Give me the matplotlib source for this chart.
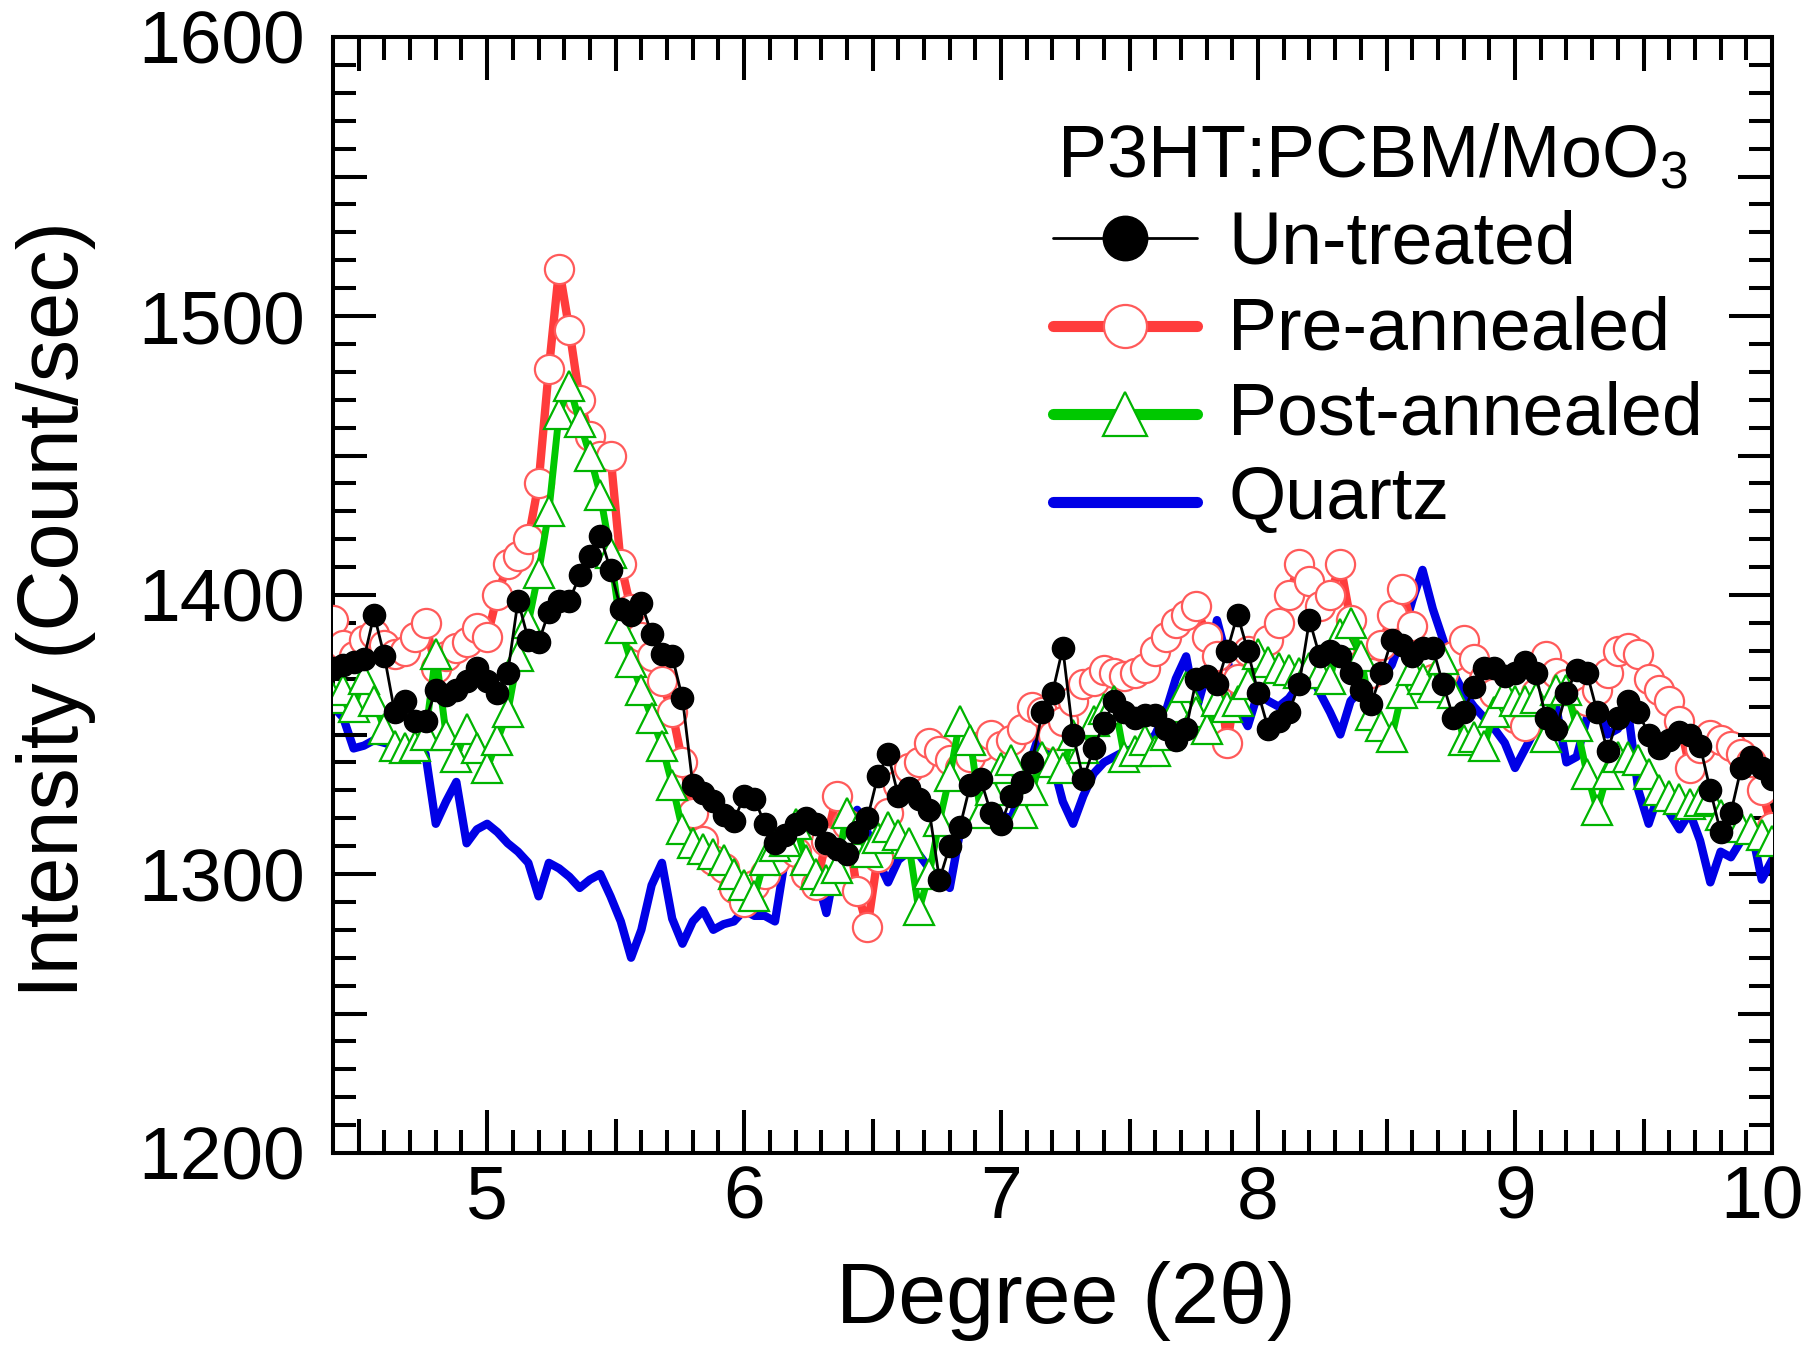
import matplotlib
matplotlib.use("Agg")
import matplotlib.pyplot as plt
import matplotlib.transforms as mtransforms
import numpy as np

plt.rcParams["font.family"] = ["Liberation Sans", "DejaVu Sans"]
plt.rcParams["mathtext.default"] = "regular"

# ---------------------------------------------------------------------
# Data. Scan step 0.04 deg from 4.40 to 10.00.
# ---------------------------------------------------------------------
two_theta = np.round(np.arange(4.40, 10.001, 0.04), 2)

untreated = [
    1374, 1375, 1376, 1377, 1393, 1378, 1358, 1362, 1355, 1355,
    1366, 1364, 1366, 1369, 1374, 1369, 1365, 1372, 1398, 1384,
    1383, 1394, 1398, 1398, 1407, 1414, 1421, 1409, 1395, 1393,
    1397, 1386, 1379, 1378, 1363, 1332, 1329, 1326, 1321, 1319,
    1328, 1327, 1318, 1311, 1314, 1318, 1320, 1318, 1311, 1309,
    1307, 1315, 1320, 1335, 1343, 1328, 1331, 1327, 1323, 1298,
    1310, 1317, 1332, 1334, 1322, 1318, 1328, 1333, 1340, 1358,
    1365, 1381, 1350, 1334, 1345, 1354, 1362, 1358, 1356, 1357,
    1357, 1352, 1348, 1352, 1370, 1371, 1368, 1380, 1393, 1380,
    1365, 1352, 1355, 1358, 1368, 1391, 1378, 1380, 1378, 1372,
    1366, 1361, 1372, 1384, 1382, 1378, 1381, 1381, 1368, 1356,
    1358, 1367, 1374, 1374, 1371, 1372, 1376, 1372, 1356, 1352,
    1365, 1373, 1372, 1358, 1344, 1356, 1362, 1358, 1350, 1345,
    1348, 1351, 1350, 1346, 1330, 1315, 1322, 1338, 1342, 1338,
    1334,
]

pre_annealed = [
    1391, 1382, 1378, 1384, 1386, 1382, 1379, 1380, 1385, 1390,
    1374, 1378, 1381, 1383, 1388, 1385, 1400, 1411, 1414, 1420,
    1440, 1481, 1517, 1495, 1470, 1457, 1450, 1450, 1411, 1395,
    1385, 1378, 1369, 1358, 1340, 1322, 1312, 1305, 1302, 1295,
    1290, 1296, 1300, 1305, 1310, 1308, 1300, 1296, 1312, 1328,
    1318, 1294, 1281, 1306, 1322, 1332, 1338, 1340, 1347, 1344,
    1341, 1338, 1342, 1346, 1350, 1346, 1348, 1352, 1360, 1358,
    1350, 1355, 1362, 1368, 1369, 1373, 1372, 1371, 1372, 1374,
    1380, 1385, 1390, 1393, 1396, 1385, 1378, 1347, 1370, 1380,
    1378, 1384, 1390, 1400, 1411, 1405, 1396, 1400, 1411, 1391,
    1375, 1372, 1382, 1393, 1402, 1389, 1375, 1370, 1372, 1378,
    1384, 1377, 1370, 1365, 1360, 1356, 1353, 1365, 1378, 1372,
    1368, 1365, 1362, 1366, 1372, 1380, 1381, 1379, 1370, 1366,
    1362, 1355, 1338, 1345, 1350, 1348, 1346, 1343, 1340, 1330,
    1317,
]

post_annealed = [
    1363, 1366, 1360, 1370, 1362, 1352, 1346, 1345, 1346, 1350,
    1379, 1350, 1342, 1352, 1345, 1338, 1348, 1358, 1378, 1390,
    1408, 1430, 1465, 1475, 1462, 1450, 1436, 1415, 1388, 1376,
    1366, 1356, 1346, 1332, 1316, 1311, 1309, 1307, 1305, 1300,
    1296, 1292, 1305, 1310, 1312, 1318, 1305, 1300, 1298, 1302,
    1322, 1316, 1308, 1313, 1317, 1314, 1311, 1287, 1300, 1319,
    1335, 1355, 1348, 1322, 1330, 1338, 1341, 1322, 1330, 1342,
    1340, 1338, 1350, 1345, 1355, 1359, 1362, 1342, 1344, 1348,
    1344, 1350, 1360, 1367, 1358, 1352, 1362, 1360, 1362, 1368,
    1379, 1376, 1374, 1373, 1372, 1374, 1372, 1370, 1386, 1390,
    1378, 1357, 1353, 1349, 1365, 1373, 1370, 1367, 1377, 1365,
    1348, 1349, 1346, 1358, 1365, 1362, 1362, 1363, 1349, 1366,
    1366, 1353, 1336, 1323, 1336, 1342, 1342, 1341, 1336, 1330,
    1328, 1327, 1325, 1326, 1327, 1321, 1319, 1317, 1316, 1314,
    1312,
]

quartz = [
    1360, 1356, 1345, 1346, 1348, 1347, 1346, 1345, 1344, 1343,
    1318, 1326, 1333, 1311, 1316, 1318, 1315, 1311, 1308, 1304,
    1292, 1304, 1302, 1299, 1295, 1298, 1300, 1292, 1283, 1270,
    1280, 1296, 1304, 1284, 1275, 1283, 1287, 1280, 1282, 1283,
    1287, 1285, 1285, 1283, 1306, 1315, 1305, 1300, 1286, 1305,
    1318, 1323, 1315, 1305, 1297, 1305, 1308, 1307, 1302, 1298,
    1295, 1315, 1318, 1320, 1322, 1321, 1320, 1330, 1342, 1353,
    1340, 1326, 1318, 1328, 1336, 1340, 1342, 1344, 1345, 1346,
    1350, 1358, 1370, 1378, 1359, 1372, 1391, 1377, 1360, 1353,
    1365, 1362, 1360, 1363, 1368, 1373, 1365, 1358, 1350, 1362,
    1366, 1368, 1370, 1375, 1385, 1398, 1409, 1395, 1384, 1372,
    1365, 1360, 1356, 1352, 1347, 1338, 1345, 1352, 1356, 1360,
    1340, 1342, 1356, 1366, 1350, 1352, 1358, 1330, 1318, 1329,
    1322, 1316, 1322, 1312, 1297, 1308, 1306, 1312, 1316, 1298,
    1305,
]

LEGEND_TITLE = "P3HT:PCBM/MoO$_3$"
LABELS = ["Un-treated", "Pre-annealed", "Post-annealed", "Quartz"]

RED = "#ff3c3c"
RED_EDGE = "#ff5a5a"
GREEN = "#00c800"
GREEN_EDGE = "#00b400"
BLUE = "#0000e6"

# ---------------------------------------------------------------------
# Figure
# ---------------------------------------------------------------------
W, H = 1807, 1361
AX_L, AX_R, AX_T, AX_B = 333, 1772, 37, 1153
fig = plt.figure(figsize=(W / 100, H / 100), dpi=100)
rect = [AX_L / W, (H - AX_B) / H, (AX_R - AX_L) / W, (AX_B - AX_T) / H]
ax = fig.add_axes(rect)


def to_axes(px, py):
    """pixel position in the image -> axes fraction"""
    return (px - AX_L) / (AX_R - AX_L), (AX_B - py) / (AX_B - AX_T)


ax.plot(two_theta, quartz, color=BLUE, lw=6, zorder=2,
        solid_joinstyle="round")
ax.plot(two_theta, pre_annealed, color=RED, lw=6, marker="o", ms=21,
        mfc="white", mec=RED_EDGE, mew=1.6, zorder=3)
ax.plot(two_theta, post_annealed, color=GREEN, lw=5, marker="^", ms=22,
        mfc="white", mec=GREEN_EDGE, mew=1.6, zorder=4)
ax.plot(two_theta, untreated, color="black", lw=2, marker="o", ms=16,
        mfc="black", mec="black", zorder=5)

ax.set_xlim(4.4, 10.0)
ax.set_ylim(1200, 1600)
ax.set_xticks([5, 6, 7, 8, 9, 10])
ax.set_xticks(np.arange(4.4, 10.01, 0.1), minor=True)
ax.set_yticks([1200, 1300, 1400, 1500, 1600])
ax.set_yticks(np.arange(1200, 1601, 10), minor=True)

for side in ax.spines.values():
    side.set_linewidth(2.9)

ax.tick_params(which="both", direction="in", top=True, right=True,
               width=2.9, labelsize=54)
ax.tick_params(which="major", length=31)
ax.tick_params(which="minor", length=16.5)
ax.tick_params(axis="x", which="major", pad=8)
ax.tick_params(axis="y", which="major", pad=20)

# the "10" sits a little left of its tick in the original
shift = mtransforms.ScaledTranslation(-10 / 100, 0, fig.dpi_scale_trans)
last = ax.get_xticklabels()[-1]
last.set_transform(last.get_transform() + shift)

# medium ticks at the half steps
ax_mid = fig.add_axes(rect, frameon=False)
ax_mid.set_xlim(4.4, 10.0)
ax_mid.set_ylim(1200, 1600)
ax_mid.set_xticks([4.5, 5.5, 6.5, 7.5, 8.5, 9.5])
ax_mid.set_yticks([1250, 1350, 1450, 1550])
ax_mid.tick_params(direction="in", top=True, right=True, length=24.5,
                   width=2.9, labelbottom=False, labelleft=False)
ax_mid.patch.set_visible(False)

ax.set_xlabel("Degree (2\u03b8)", fontsize=62)
ax.xaxis.set_label_coords(0.509, -0.097)
ax.set_ylabel("Intensity (Count/sec)", fontsize=61)
ax.yaxis.set_label_coords(-0.165, 0.487)

# ---------------------------------------------------------------------
# Legend, laid out by hand to match the original spacing
# ---------------------------------------------------------------------
handle_styles = [
    dict(color="black", lw=2, marker="o", ms=32, mfc="black", mec="black"),
    dict(color=RED, lw=8, marker="o", ms=31, mfc="white", mec=RED_EDGE,
         mew=1.6),
    dict(color=GREEN, lw=8, marker="^", ms=31, mfc="white",
         mec=GREEN_EDGE, mew=1.6),
    dict(color=BLUE, lw=8),
]
row_centres = [238, 326, 414, 502]
text_baselines = [263, 349, 434, 519]

tx, ty = to_axes(1057, 177)
ax.text(tx, ty, LEGEND_TITLE, transform=ax.transAxes, fontsize=53,
        ha="left", va="baseline")
for style, yc, yb, label in zip(handle_styles, row_centres,
                                text_baselines, LABELS):
    x0, y0 = to_axes(1053, yc)
    x1, _ = to_axes(1197, yc)
    xm, _ = to_axes(1125, yc)
    line_style = {k: v for k, v in style.items()
                  if k in ("color", "lw")}
    ax.plot([x0, x1], [y0, y0], transform=ax.transAxes, zorder=6,
            solid_capstyle="round", **line_style)
    if "marker" in style:
        ax.plot([xm], [y0], transform=ax.transAxes, zorder=7, ls="none",
                **{k: v for k, v in style.items() if k not in ("lw",)})
    lx, ly = to_axes(1228, yb)
    ax.text(lx, ly, label, transform=ax.transAxes, fontsize=53,
            ha="left", va="baseline")

fig.savefig("out.png", dpi=100)
